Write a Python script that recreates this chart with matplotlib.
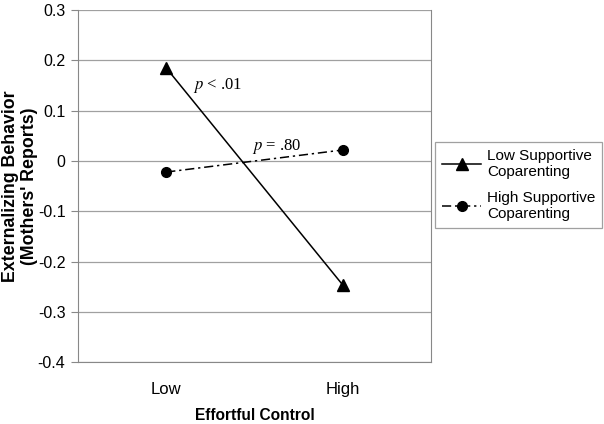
import matplotlib.pyplot as plt
from matplotlib.lines import Line2D

# data
categories = ['Low', 'High']
low_support = [0.185, -0.247]
high_support = [-0.022, 0.022]
yticks = [0.3, 0.2, 0.1, 0, -0.1, -0.2, -0.3, -0.4]
ytick_labels = ['0.3', '0.2', '0.1', '0', '-0.1', '-0.2', '-0.3', '-0.4']

plt.rcParams['font.family'] = ['Liberation Sans', 'DejaVu Sans']

fig = plt.figure(figsize=(6.04, 4.24), dpi=100)
ax = fig.add_axes([0.129, 0.146, 0.585, 0.830])

dashdot = (0, (6, 2.5, 1.5, 2.5))
x = [0, 1]
ax.plot(x, low_support, color='black', lw=1.1, marker='^', ms=9, zorder=3)
ax.plot(x, high_support, color='black', lw=1.1, ls=dashdot,
        marker='o', ms=7, zorder=3)

ax.set_xlim(-0.5, 1.5)
ax.set_ylim(-0.4, 0.3)
ax.set_yticks(yticks)
ax.set_yticklabels(ytick_labels, fontsize=11.5)
ax.set_xticks(x)
ax.set_xticklabels(categories, fontsize=12)
ax.tick_params(axis='x', length=0, pad=14)
ax.tick_params(axis='y', length=5, color='#888888', direction='out', pad=4)
ax.yaxis.grid(True, color='#a0a0a0', lw=0.9)
ax.set_axisbelow(True)
for s in ax.spines.values():
    s.set_color('#888888')
ax.spines['top'].set_visible(False)

ax.set_xlabel('Effortful Control', fontsize=11.2, fontweight='bold', labelpad=8)
ax.set_ylabel("Externalizing Behavior\n(Mothers' Reports)", fontsize=12.8,
              fontweight='bold', linespacing=1.15)
ax.yaxis.set_label_coords(-0.112, 0.5)

ax.text(0.153, 0.143, r'$p$ < .01', fontsize=12, family='Liberation Serif',
        math_fontfamily='stix')
ax.text(0.486, 0.022, r'$p$ = .80', fontsize=12, family='Liberation Serif',
        math_fontfamily='stix')

handles = [
    Line2D([], [], color='black', lw=1.1, marker='^', ms=9),
    Line2D([], [], color='black', lw=1.1, ls=dashdot, marker='o', ms=7),
]
leg = fig.legend(handles, ['Low Supportive\nCoparenting', 'High Supportive\nCoparenting'],
                 loc='upper left', bbox_to_anchor=(0.720, 0.665), borderaxespad=0,
                 fontsize=11, frameon=True, fancybox=False, handlelength=2.6,
                 borderpad=0.45, labelspacing=0.76, handletextpad=0.35)
leg.get_frame().set_edgecolor('#888888')
leg.get_frame().set_linewidth(0.9)

fig.savefig('out.png', dpi=100)
